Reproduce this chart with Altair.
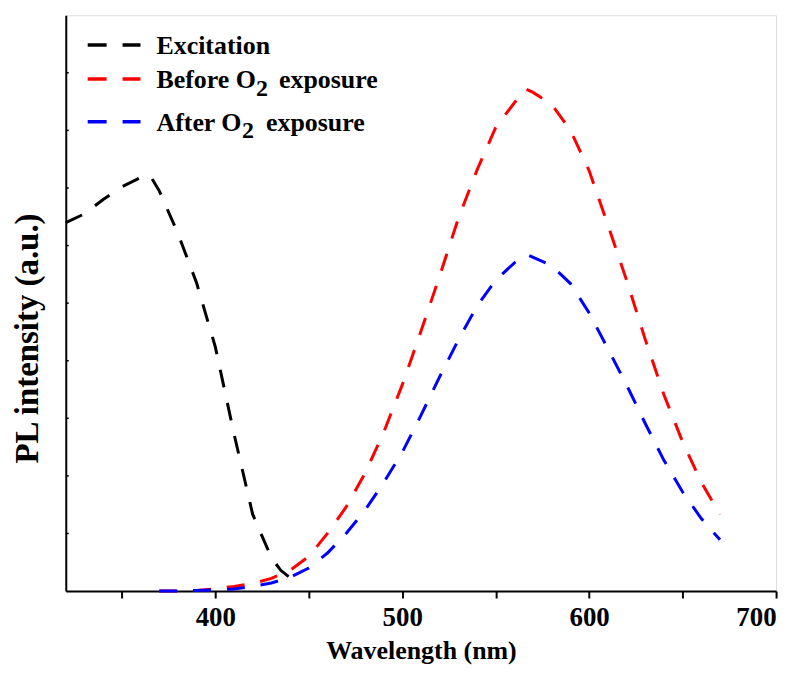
import altair as alt
import pandas as pd

# ---- data ----
wl_exc = [320, 330, 340, 350, 360, 365, 370, 380, 390, 400, 410, 420, 430, 435, 440, 445]
int_exc = [6.40, 6.55, 6.80, 7.02, 7.18, 7.22, 6.95, 6.21, 5.35, 4.24, 2.73, 1.33, 0.58, 0.36, 0.23, 0.14]

wl_before = [370, 380, 390, 400, 410, 420, 430, 440, 450, 460, 470, 480, 490, 500, 510, 520, 530,
             540, 550, 560, 566, 570, 580, 590, 600, 610, 620, 630, 640, 650, 660, 670]
int_before = [0.0, 0.0, 0.01, 0.04, 0.08, 0.13, 0.22, 0.36, 0.60, 1.00, 1.46, 2.04, 2.75, 3.58, 4.51,
              5.47, 6.47, 7.31, 8.05, 8.48, 8.72, 8.66, 8.45, 8.00, 7.30, 6.36, 5.40, 4.37, 3.41,
              2.59, 1.89, 1.33]

wl_after = [370, 380, 390, 400, 410, 420, 430, 440, 450, 460, 470, 480, 490, 500, 510, 520, 530,
            540, 550, 560, 567, 580, 590, 600, 610, 620, 630, 640, 650, 660, 670]
int_after = [0.0, 0.0, 0.01, 0.02, 0.035, 0.08, 0.14, 0.24, 0.40, 0.66, 1.00, 1.40, 1.88, 2.41, 3.05,
             3.72, 4.36, 4.95, 5.40, 5.70, 5.84, 5.65, 5.34, 4.83, 4.21, 3.58, 2.91, 2.27, 1.72,
             1.26, 0.89]

series_names = ["Excitation", "Before O2 exposure", "After O2 exposure"]
series_colors = ["#000000", "#ff0000", "#0000ff"]
x_tick_values = [350, 400, 450, 500, 550, 600, 650, 700]
y_tick_values = [1, 2, 3, 4, 5, 6, 7, 8, 9]

rows = []
for name, wls, vals in zip(series_names, [wl_exc, wl_before, wl_after],
                           [int_exc, int_before, int_after]):
    for w, v in zip(wls, vals):
        rows.append({"series": name, "wavelength": w, "intensity": v})
df = pd.DataFrame(rows)

FONT = "Liberation Serif"
DASH = [18, 16]

x_scale = alt.Scale(domain=[320, 700], nice=False, zero=False)
y_scale = alt.Scale(domain=[0, 10], nice=False)

lines = alt.Chart(df).mark_line(strokeWidth=3, strokeDash=DASH).encode(
    x=alt.X("wavelength:Q", scale=x_scale,
            axis=alt.Axis(title="Wavelength (nm)", values=x_tick_values,
                          labelExpr="datum.value % 100 == 0 ? datum.label : ''",
                          grid=False, tickSize=7, tickWidth=2, tickColor="black",
                          domainColor="black", domainWidth=2,
                          labelFont=FONT, labelFontSize=27, labelFontWeight="bold",
                          labelColor="black", labelPadding=7,
                          titleFont=FONT, titleFontSize=26, titleFontWeight="bold",
                          titleColor="black", titlePadding=7)),
    y=alt.Y("intensity:Q", scale=y_scale,
            axis=alt.Axis(title="PL intensity (a.u.)", labels=False, ticks=False, grid=False,
                          domainColor="black", domainWidth=2,
                          titleFont=FONT, titleFontSize=33, titleFontWeight="bold",
                          titleColor="black", titleX=-21, titleY=324)),
    color=alt.Color("series:N", scale=alt.Scale(domain=series_names, range=series_colors),
                    legend=None),
    detail="series:N",
)

yticks = alt.Chart(pd.DataFrame({"t": y_tick_values})).mark_rule(
    color="black", strokeWidth=1.5).encode(
    y=alt.Y("t:Q", scale=y_scale), x=alt.value(0), x2=alt.value(3))

one = alt.Data(values=[{"k": 0}])

def legend_line(color, y):
    return alt.Chart(one).mark_rule(color=color, strokeWidth=3.5, strokeDash=[19, 16]).encode(
        x=alt.value(22), x2=alt.value(75), y=alt.value(y))

def legend_text(txt, x, y, size=26):
    return alt.Chart(one).mark_text(
        text=txt, font=FONT, fontSize=size, fontWeight="bold", color="black",
        align="left", baseline="alphabetic").encode(x=alt.value(x), y=alt.value(y))

legend_layers = [
    legend_line(series_colors[0], 30),
    legend_text("Excitation", 91, 39),
    legend_line(series_colors[1], 64),
    legend_text("Before O", 91, 73),
    legend_text("2", 191, 81, 24),
    legend_text("exposure", 214, 73),
    legend_line(series_colors[2], 107),
    legend_text("After O", 91, 116),
    legend_text("2", 177, 123, 24),
    legend_text("exposure", 201, 116),
]

chart = alt.layer(lines, yticks, *legend_layers).properties(
    width=713, height=578,
    autosize=alt.AutoSizeParams(type="none"),
    padding={"left": 58, "top": 6, "right": 20, "bottom": 77},
).configure_view(stroke=None).configure(background="white")

chart.save("out.html", embed_options={"renderer": "svg", "actions": False})
